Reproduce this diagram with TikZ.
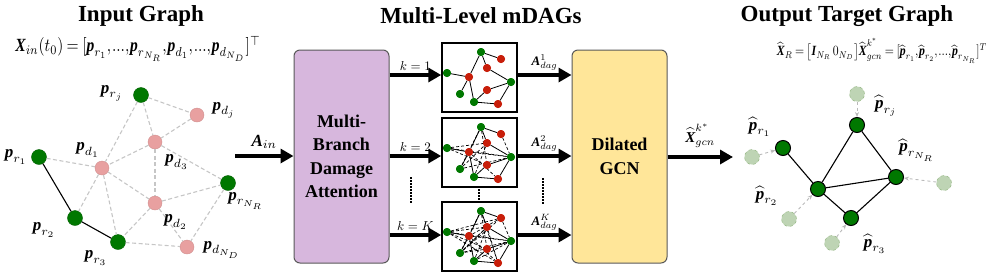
\documentclass[tikz,border=0pt]{standalone}
\usepackage{amsmath}
\usepackage{bm}
\usepackage{fontspec}
\setmainfont{Liberation Serif}
\newcommand{\bv}[1]{\text{\normalfont\bfseries\itshape #1}}
\newcommand{\cm}{\mathord{,}\mkern1mu}
\newcommand{\dd}{\mathord{.}\mathord{.}\mathord{.}}
\usetikzlibrary{arrows.meta}
\definecolor{dgreen}{RGB}{0,120,0}
\definecolor{pinkn}{RGB}{232,160,160}
\definecolor{redn}{RGB}{200,30,10}
\definecolor{lilac}{RGB}{215,183,221}
\definecolor{lyellow}{RGB}{255,230,153}
\definecolor{ghostf}{RGB}{190,212,180}
\definecolor{ghostd}{RGB}{140,176,120}
\tikzset{
  gnode/.style={circle,fill=dgreen,draw=dgreen!80!black,minimum size=15pt,inner sep=0pt},
  pnode/.style={circle,fill=pinkn,draw=pinkn!90!black,minimum size=14pt,inner sep=0pt},
  onode/.style={circle,fill=dgreen,draw=black,line width=1pt,minimum size=15pt,inner sep=0pt},
  ghost/.style={circle,fill=ghostf,draw=ghostd,dashed,minimum size=15pt,inner sep=0pt},
  ged/.style={draw=gray!45,dashed,line width=1.1pt,dash pattern=on 4pt off 2.5pt},
  sed/.style={draw=black,line width=1.1pt},
  garrow/.style={draw=gray!55,dashed,line width=0.9pt,-{Stealth[length=5pt,width=4pt]}},
  big/.style={line width=4pt,-{Triangle[length=13pt,width=14pt]}},
  title/.style={font=\fontsize{23}{27}\selectfont\bfseries},
  blk/.style={rounded corners=6pt,draw=gray!70!black,line width=1pt,minimum width=95pt,minimum height=213pt,align=center,font=\fontsize{18}{23.5}\selectfont\bfseries},
  mbox/.style={draw=black,line width=1.5pt,minimum width=75pt,minimum height=69pt,inner sep=0pt,fill=white},
  mg/.style={circle,fill=dgreen,minimum size=8pt,inner sep=0pt},
  mr/.style={circle,fill=redn,minimum size=8pt,inner sep=0pt},
  mse/.style={draw=black,line width=0.8pt},
  mde/.style={draw=black,line width=0.7pt,dashed,dash pattern=on 3pt off 2pt},
  lab/.style={scale=1.7,inner sep=1pt},
  klab/.style={scale=1.3,inner sep=1.5pt},
  dots/.style={line width=2.5pt,dash pattern=on 1.5pt off 1.5pt}
}
\newcommand{\minig}[3]{%
  \begin{scope}[shift={(#2,#3)}]
  \node[mg] (#1a) at (39,9) {};
  \node[mr] (#1b) at (59,16) {};
  \node[mr] (#1c) at (45,25) {};
  \node[mg] (#1d) at (5,30) {};
  \node[mr] (#1e) at (27,34) {};
  \node[mg] (#1f) at (69,39) {};
  \node[mr] (#1g) at (45,47) {};
  \node[mg] (#1h) at (18,51) {};
  \node[mg] (#1i) at (32,59) {};
  \node[mr] (#1j) at (56,61) {};
  \end{scope}}
\begin{document}
\begin{tikzpicture}[x=1pt,y=-1pt]
\useasboundingbox (0,0) rectangle (997,277);
% titles
\node[title] (t1) at (141,16) {Input Graph};
\node[title] (t2) at (481,16) {Multi-Level mDAGs};
\node[title] (t3) at (847,16) {Output Target Graph};
% formulas
\node (f1) at (138,49) {\scalebox{1}[1.2]{\resizebox{245pt}{!}{$\bv{X}_{in}(t_0)\mkern-1mu=\mkern-1mu[\bv{p}_{r_1}\cm\dd\cm\bv{p}_{r_{N_R}}\cm\bv{p}_{d_1}\cm\dd\cm\bv{p}_{d_{N_D}}]^{\top}$}}};
\node (f2) at (882,51) {\scalebox{1}[1.2]{\resizebox{210pt}{!}{$\widehat{\bv{X}}_R\mkern-1mu=\mkern-1mu\big[\bv{I}_{N_R}\,0_{N_D}\big]\widehat{\bv{X}}^{k^*}_{gcn}\mkern-1mu=\mkern-1mu[\widehat{\bv{p}}_{r_1}\cm\widehat{\bv{p}}_{r_2}\cm\dd\cm\widehat{\bv{p}}_{r_{N_R}}]^T$}}};
% input graph
\node[gnode] (rj) at (141,95) {};
\node[pnode] (dj) at (197,115) {};
\node[pnode] (d3) at (155,142) {};
\node[gnode] (r1) at (39,157) {};
\node[pnode] (d1) at (102,168) {};
\node[gnode] (rN) at (228,183) {};
\node[pnode] (d2) at (155,203) {};
\node[gnode] (r2) at (75,218) {};
\node[gnode] (r3) at (118,242) {};
\node[pnode] (dN) at (187,247) {};
\foreach \u/\v in {rj/dj,rj/d3,rj/d1,dj/d3,d3/d1,d3/d2,d3/rN,r1/d1,d1/r2,d1/r3,d1/d2,d2/rN,d2/r3,d2/dN,rN/dN,r3/dN}{\draw[ged] (\u) -- (\v);}
\draw[sed] (r1) -- (r2);
\draw[sed] (r2) -- (r3);
\node[lab] (lrj) at (112,93) {$\bv{p}_{r_j}$};
\node[lab] (ldj) at (224,110) {$\bv{p}_{d_j}$};
\node[lab] (ld1) at (88,150) {$\bv{p}_{d_1}$};
\node[lab] (ld3) at (177,162) {$\bv{p}_{d_3}$};
\node[lab] (lr1) at (16,157) {$\bv{p}_{r_1}$};
\node[lab] (lrN) at (246,201) {$\bv{p}_{r_{N_R}}$};
\node[lab] (ld2) at (176,222) {$\bv{p}_{d_2}$};
\node[lab] (lr2) at (44,230) {$\bv{p}_{r_2}$};
\node[lab] (lr3) at (96,258) {$\bv{p}_{r_3}$};
\node[lab] (ldN) at (222,250) {$\bv{p}_{d_{N_D}}$};
% blocks
\node[blk,fill=lilac] (mba) at (341.5,156.5) {Multi-\\Branch\\Damage\\Attention};
\node[blk,fill=lyellow] (gcn) at (619.5,156.5) {Dilated\\GCN};
\coordinate (ain) at (235,156);
\draw[big] (ain) -- (mba.west |- ain) node[midway,above=2pt,lab] {$\bv{A}_{in}$};
% mDAG boxes
\node[mbox] (b1) at (479.5,77.5) {};
\node[mbox] (b2) at (479.5,152.5) {};
\node[mbox] (b3) at (479.5,236.5) {};
\minig{p}{442}{43}
\minig{q}{442}{118}
\minig{s}{442}{202}
\foreach \u/\v in {a/b,a/c,a/e,c/f,d/e,e/h,e/i,i/g,g/f,f/j,i/j}{\draw[mse] (p\u) -- (p\v);\draw[mse] (q\u) -- (q\v);\draw[mse] (s\u) -- (s\v);}
\foreach \u/\v in {d/c,d/f,h/c,h/f,e/f,e/j,c/i,a/g,b/f,d/g,a/h}{\draw[mde] (q\u) -- (q\v);}
\foreach \u/\v in {d/c,d/f,h/c,h/f,e/f,e/j,c/i,a/g,b/f,d/g,a/h,d/b,h/b,d/j,e/b,c/j,g/h,i/f,a/j,c/h}{\draw[mde] (s\u) -- (s\v);}
\foreach \n in {a,d,f,h,i}{\node[mg] at (p\n) {};\node[mg] at (q\n) {};\node[mg] at (s\n) {};}
\foreach \n in {b,c,e,g,j}{\node[mr] at (p\n) {};\node[mr] at (q\n) {};\node[mr] at (s\n) {};}
% arrows k
\coordinate (k1) at (0,75);
\coordinate (k2) at (0,156);
\coordinate (k3) at (0,235);
\draw[big] (mba.east |- k1) -- (b1.west |- k1) node[midway,above=0pt,klab] {$k=1$};
\draw[big] (mba.east |- k2) -- (b2.west |- k2) node[midway,above=0pt,klab] {$k=2$};
\draw[big] (mba.east |- k3) -- (b3.west |- k3) node[midway,above=0pt,klab] {$k=K$};
\draw[big] (b1.east |- k1) -- (gcn.west |- k1) node[midway,above=0pt,klab] {$\bv{A}^{1}_{dag}$};
\draw[big] (b2.east |- k2) -- (gcn.west |- k2) node[midway,above=0pt,klab] {$\bv{A}^{2}_{dag}$};
\draw[big] (b3.east |- k3) -- (gcn.west |- k3) node[midway,above=0pt,klab] {$\bv{A}^{K}_{dag}$};
% dots
\coordinate (v1a) at (411,177); \coordinate (v1b) at (411,204);
\draw[dots] (v1a) -- (v1b);
\coordinate (v2a) at (479,189); \coordinate (v2b) at (479,201);
\draw[dots] (v2a) -- (v2b);
\coordinate (v3a) at (543,178); \coordinate (v3b) at (543,205);
\draw[dots] (v3a) -- (v3b);
% output arrow
\coordinate (oend) at (733,157);
\draw[big] (gcn.east |- oend) -- (oend) node[midway,above=1pt,scale=1.5] {$\widehat{\bv{X}}^{k^*}_{gcn}$};
% output graph
\node[onode] (o1) at (783,148) {};
\node[onode] (o2) at (818,189) {};
\node[onode] (oN) at (896,177) {};
\node[onode] (o3) at (851,218) {};
\node[onode] (oj) at (857,125) {};
\draw[sed] (o1) -- (o2);
\draw[sed] (o2) -- (oj);
\draw[sed] (oj) -- (oN);
\draw[sed] (o2) -- (oN);
\draw[sed] (o2) -- (o3);
\draw[sed] (o3) -- (oN);
\node[ghost] (g1) at (752,157) {};
\node[ghost] (g2) at (789,219) {};
\node[ghost] (g3) at (832,243) {};
\node[ghost] (gN) at (944,183) {};
\node[ghost] (gj) at (857,94) {};
\draw[garrow] (g1) -- (o1);
\draw[garrow] (g2) -- (o2);
\draw[garrow] (g3) -- (o3);
\draw[garrow] (gN) -- (oN);
\draw[garrow] (gj) -- (oj);
\node[lab] (l1) at (760,127) {$\widehat{\bv{p}}_{r_1}$};
\node[lab] (lj) at (886,106) {$\widehat{\bv{p}}_{r_j}$};
\node[lab] (lN) at (917,150) {$\widehat{\bv{p}}_{r_{N_R}}$};
\node[lab] (l2) at (767,196) {$\widehat{\bv{p}}_{r_2}$};
\node[lab] (l3) at (875,244) {$\widehat{\bv{p}}_{r_3}$};
\end{tikzpicture}
\end{document}
